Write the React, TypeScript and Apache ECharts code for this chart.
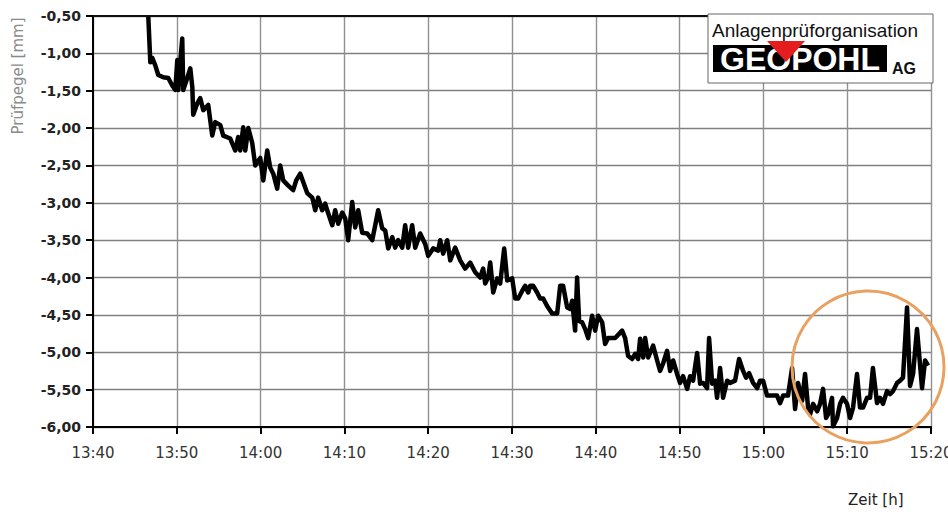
import React, { useEffect, useRef } from "react";
import * as echarts from "echarts";

// x values: minutes after 13:40
const timeLabels = ["13:40", "13:50", "14:00", "14:10", "14:20", "14:30", "14:40", "14:50", "15:00", "15:10", "15:20"];

const minutes = [
  6.60, 6.84, 7.07, 7.43, 7.79, 8.39, 8.98, 9.46, 9.82, 10.06, 10.18, 10.41, 10.65, 10.77, 11.25, 11.61, 11.85, 11.96, 12.44, 12.80,
  13.16, 13.75, 14.23, 14.59, 15.19, 15.54, 16.38, 16.98, 17.33, 17.57, 17.93, 18.17, 18.53, 19.00, 19.36, 19.96, 20.32, 20.79, 21.15, 21.51,
  21.98, 22.34, 22.70, 23.30,
  23.89, 24.25, 24.73, 25.56, 26.16, 26.52, 26.87, 27.35, 27.71, 27.95, 28.55, 28.90, 29.26, 29.74, 30.10, 30.45, 30.93, 31.29, 31.65, 32.12,
  32.72, 33.32, 33.68, 34.03, 34.51, 34.87, 35.23, 35.71, 36.06, 36.42, 36.90, 37.25, 37.61, 38.09, 38.45, 39.04, 39.64, 40.00, 40.59, 41.19,
  41.43, 41.79, 42.27, 42.63, 43.22, 43.82, 44.41, 45.01, 45.61, 46.20,
  46.56, 46.80, 47.16, 47.40, 47.76, 48.24, 48.59, 49.07, 49.43, 50.02, 50.38, 50.74, 51.21, 51.57, 51.93, 52.17, 52.52, 53.00, 53.36, 53.72,
  54.19, 54.79, 55.39, 55.75, 56.10, 56.58, 56.94, 57.18, 57.53, 57.77, 58.01, 58.37, 58.73, 59.09, 59.56, 59.92, 60.28, 60.76, 61.11, 61.47,
  62.31, 63.14, 63.50, 63.86, 64.34, 64.70, 65.05, 65.29, 65.65, 65.89, 66.25, 66.84, 67.32, 67.67, 68.03, 68.51, 68.87, 69.23, 69.70, 70.06,
  70.42, 70.90, 71.25, 71.61, 72.09, 72.45,
  72.81, 73.28, 73.52, 73.88, 74.24, 74.47, 74.83, 75.19, 75.67, 76.03, 76.62, 77.10, 77.58, 77.93, 78.29, 78.77, 79.25, 79.60, 79.96, 80.44,
  81.04, 81.63, 81.99, 82.35, 82.94, 83.42, 83.78, 84.14, 84.62, 84.97, 85.33, 85.57, 85.93, 86.41, 86.76, 87.12, 87.48, 87.72, 88.19, 88.31,
  88.79, 89.15, 89.50, 89.98, 90.34, 90.70, 91.17, 91.53, 91.89, 92.37, 92.73, 93.07, 93.56, 93.92, 94.27, 94.75, 95.11, 95.47, 95.95, 96.31,
  96.66, 97.14, 97.50, 97.86, 98.33, 98.93, 99.29, 99.65,
];

const levels = [
  -0.51, -1.12, -1.06, -1.16, -1.29, -1.32, -1.33, -1.43, -1.49, -1.09, -1.49, -1.12, -0.80, -1.49, -1.33, -1.20, -1.45, -1.82, -1.67, -1.60,
  -1.76, -1.69, -2.10, -1.92, -1.96, -2.10, -2.14, -2.30, -2.12, -2.30, -1.99, -2.30, -2.00, -2.20, -2.50, -2.40, -2.70, -2.30, -2.53, -2.61,
  -2.81, -2.50, -2.70, -2.77,
  -2.83, -2.70, -2.61, -2.87, -2.93, -3.10, -2.93, -3.10, -3.01, -3.10, -3.30, -3.10, -3.28, -3.13, -3.21, -3.50, -2.99, -3.33, -3.10, -3.40,
  -3.41, -3.50, -3.30, -3.10, -3.34, -3.37, -3.61, -3.46, -3.60, -3.50, -3.60, -3.30, -3.60, -3.30, -3.60, -3.41, -3.55, -3.71, -3.61, -3.64,
  -3.50, -3.68, -3.50, -3.77, -3.60, -3.77, -3.88, -3.80, -3.93, -4.00,
  -3.88, -4.08, -4.00, -3.80, -4.20, -4.01, -4.08, -3.61, -4.04, -4.01, -4.28, -4.28, -4.18, -4.11, -4.20, -4.11, -4.11, -4.20, -4.28, -4.28,
  -4.38, -4.48, -4.48, -4.11, -4.11, -4.40, -4.42, -4.31, -4.71, -4.00, -4.58, -4.60, -4.69, -4.81, -4.51, -4.71, -4.51, -4.60, -4.89, -4.81,
  -4.81, -4.71, -4.81, -5.05, -5.09, -5.02, -5.09, -4.82, -5.07, -4.81, -5.07, -4.91, -5.11, -5.25, -5.15, -4.98, -5.25, -5.11, -5.29, -5.41,
  -5.32, -5.49, -5.32, -5.38, -5.01, -5.42,
  -5.41, -5.48, -4.81, -5.42, -5.38, -5.61, -5.21, -5.61, -5.38, -5.41, -5.38, -5.09, -5.25, -5.34, -5.28, -5.41, -5.48, -5.38, -5.38, -5.58,
  -5.58, -5.58, -5.68, -5.58, -5.58, -5.21, -5.76, -5.41, -5.65, -5.29, -5.74, -5.83, -5.69, -5.79, -5.69, -5.49, -5.88, -5.83, -5.61, -5.99,
  -5.88, -5.69, -5.61, -5.69, -5.88, -5.74, -5.29, -5.74, -5.74, -5.61, -5.61, -5.21, -5.68, -5.61, -5.69, -5.52, -5.56, -5.52, -5.41, -5.38,
  -5.34, -4.40, -5.45, -5.29, -4.69, -5.48, -5.11, -5.18,
];

const yAxisTitle = "Prüfpegel [mm]";
const xAxisTitle = "Zeit [h]";
const logoLine1 = "Anlagenprüforganisation";
const logoName = "GEOPOHL";
const logoSuffix = "AG";

function txt(x: number, y: number, text: string, font: string, fill: string, align = "left", vAlign = "middle", extra: any = {}) {
  return {
    type: "text",
    x,
    y,
    z: 100,
    ...extra,
    style: { text, font, fill, align, textAlign: align, verticalAlign: vAlign, textVerticalAlign: vAlign },
  };
}

export default function App() {
  const ref = useRef<HTMLDivElement>(null);
  useEffect(() => {
    if (!ref.current) return;
    const chart = echarts.init(ref.current, null, { renderer: "svg" });
    const option: any = {
      animation: false,
      backgroundColor: "#ffffff",
      grid: { left: 93, right: 17, top: 16, bottom: 85, containLabel: false, outerBoundsMode: "none" },
      xAxis: [
        {
          type: "value",
          min: 0,
          max: 100,
          interval: 10,
          position: "bottom",
          axisLine: { show: true, onZero: false, lineStyle: { color: "#000", width: 2 } },
          axisTick: { show: true, length: 7, lineStyle: { color: "#000", width: 2 } },
          axisLabel: {
            formatter: (v: number) => timeLabels[Math.round(v / 10)] ?? "",
            fontSize: 15,
            fontFamily: "DejaVu Sans",
            color: "#333",
            margin: 18,
            showMinLabel: true,
            showMaxLabel: true,
            hideOverlap: false,
          },
          splitLine: { show: true, lineStyle: { color: "#909090", width: 1.4 } },
        },
        {
          type: "value",
          min: 0,
          max: 100,
          position: "top",
          axisLine: { show: true, onZero: false, lineStyle: { color: "#111", width: 2 } },
          axisTick: { show: false },
          axisLabel: { show: false },
          splitLine: { show: false },
        },
      ],
      yAxis: {
        type: "value",
        min: -6,
        max: -0.5,
        interval: 0.5,
        axisLine: { show: true, onZero: false, lineStyle: { color: "#000", width: 2 } },
        axisTick: { show: true, length: 7, lineStyle: { color: "#000", width: 2 } },
        axisLabel: {
          formatter: (v: number) => v.toFixed(2).replace(".", ","),
          fontSize: 14,
          fontWeight: "bold",
          fontFamily: "DejaVu Sans",
          color: "#222",
          margin: 12,
          showMinLabel: true,
          showMaxLabel: true,
        },
        splitLine: { show: true, lineStyle: { color: "#808080", width: 1.4 } },
      },
      series: [
        {
          type: "line",
          xAxisIndex: 0,
          data: minutes.map((m, i) => [m, levels[i]]),
          showSymbol: false,
          symbol: "none",
          lineStyle: { color: "#000", width: 4.5, join: "round" },
          z: 3,
        },
      ],
      graphic: [
        txt(18, 76, yAxisTitle, '15px "DejaVu Sans"', "#8a8a8a", "center", "middle", { rotation: Math.PI / 2 }),
        txt(848, 500, xAxisTitle, '15px "DejaVu Sans"', "#222", "left", "middle"),
        {
          type: "rect",
          z: 100,
          shape: { x: 708, y: 14, width: 225, height: 69 },
          style: { fill: "#fff", stroke: "#666", lineWidth: 1 },
        },
        txt(712, 30, logoLine1, '19px "Liberation Sans"', "#111", "left", "middle"),
        {
          type: "rect",
          z: 100,
          shape: { x: 713, y: 45, width: 174, height: 27 },
          style: { fill: "#000" },
        },
        txt(800, 59, logoName, '900 32px "Liberation Sans"', "#fff", "center", "middle"),
        {
          type: "polygon",
          z: 101,
          shape: { points: [[767, 41], [805, 41], [786, 62]] },
          style: { fill: "#e41e1e" },
        },
        txt(892, 68, logoSuffix, 'bold 16px "Liberation Sans"', "#111", "left", "middle"),
        {
          type: "circle",
          z: 102,
          shape: { cx: 868, cy: 367, r: 76 },
          style: { fill: "none", stroke: "#e9a15f", lineWidth: 3 },
        },
      ],
    };
    chart.setOption(option);
    return () => chart.dispose();
  }, []);
  return (
    <div
      ref={ref}
      style={{ position: "fixed", left: 0, top: 0, width: 948, height: 512, background: "#fff" }}
    />
  );
}
